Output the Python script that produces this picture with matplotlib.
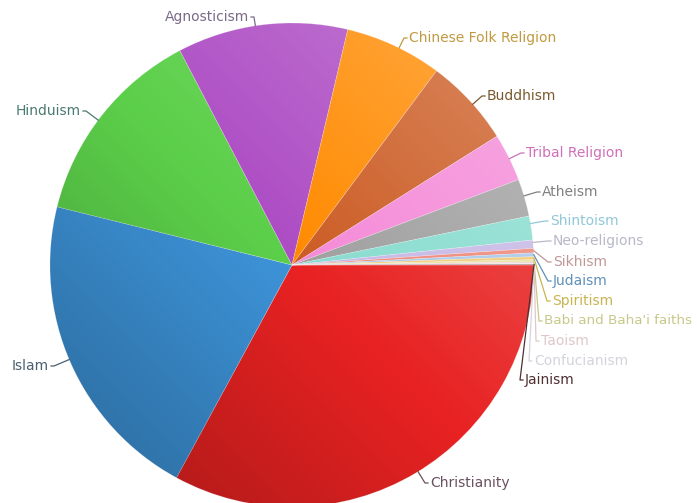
import numpy as np
import matplotlib.pyplot as plt
from matplotlib.patches import Circle

# Religions of the world, share in percent
religioner = ["Christianity", "Islam", "Hinduism", "Agnosticism", "Chinese Folk Religion",
              "Buddhism", "Tribal Religion", "Atheism", "Shintoism", "Neo-religions",
              "Sikhism", "Judaism", "Spiritism", "Babi and Baha'i faiths", "Taoism",
              "Confucianism", "Jainism"]
andel = [33.0, 21.0, 13.5, 11.4, 6.5, 5.9, 3.2, 2.5, 1.6, 0.55,
         0.3, 0.25, 0.2, 0.15, 0.1, 0.05, 0.05]

farger = ["#e82222", "#3d93d8", "#5ccf4a", "#ad4cc4", "#ff8a00", "#cc5c24", "#f58ad8",
          "#a0a0a0", "#88dccf", "#c6b8e6", "#ee8878", "#a8c8e8", "#f0c870", "#e8e0a0",
          "#f0c8c8", "#e2e2ea", "#6a4040"]
tekstfarger = ["#6a5060", "#4a6070", "#4a7a70", "#7a6a8a", "#c09a40", "#7a5a30", "#d070b8",
               "#808080", "#90c8d8", "#b8b8c8", "#c09898", "#6090b8", "#c8b450", "#c8c88a",
               "#e0c8c8", "#d4d4dc", "#503030"]

# label anchor (pixels) and side
etikett_pos = [(430, 483, "left"), (49, 366, "right"), (81, 111, "right"), (249, 17, "right"),
               (409, 38, "left"), (487, 96, "left"), (526, 153, "left"), (542, 192, "left"),
               (550, 221, "left"), (553, 241, "left"), (553, 262, "left"), (553, 281, "left"),
               (552, 301, "left"), (544, 321, "left"), (541, 341, "left"), (534, 361, "left"),
               (525, 380, "left")]

cx, cy, r = 292, 265, 242

fig = plt.figure(figsize=(6.97, 5.03), dpi=100)
ax = fig.add_axes([0, 0, 1, 1])

wedges, _ = ax.pie(andel, colors=farger, startangle=0, counterclock=True,
                   center=(cx, cy), radius=r,
                   wedgeprops=dict(linewidth=0.4, edgecolor=(1, 1, 1, 0.35)))

# light top-right, dark bottom-left shading over the pie
xs = np.linspace(cx - r, cx + r, 300)
ys = np.linspace(cy - r, cy + r, 300)
X, Y = np.meshgrid(xs, ys)
t = ((X - cx) - (Y - cy)) / (2 * r)
rgba = np.zeros((300, 300, 4))
rgba[..., :3] = np.where(t[..., None] > 0, 1.0, 0.0)
rgba[..., 3] = np.where(t > 0, 0.28 * t, 0.3 * -t)
im = ax.imshow(rgba, extent=(cx - r, cx + r, cy + r, cy - r), origin="upper", zorder=3)
im.set_clip_path(Circle((cx, cy), r, transform=ax.transData))

ax.set_xlim(0, 697)
ax.set_ylim(503, 0)
ax.set_aspect("equal")
ax.axis("off")

for w, navn, farge, (tx, ty, side) in zip(wedges, religioner, tekstfarger, etikett_pos):
    if side == "left":
        ex = tx - 5
    else:
        ex = tx + 5
    # point on the rim towards the elbow, kept inside the wedge
    vinkel = np.degrees(np.arctan2(ty - cy, ex - cx)) % 360
    lo, hi = w.theta1, w.theta2
    if not (lo <= vinkel <= hi):
        vinkel = min(max(vinkel, lo + 0.3 * (hi - lo)), hi - 0.3 * (hi - lo))
        if hi - lo < 4:
            vinkel = (lo + hi) / 2
    px = cx + r * np.cos(np.radians(vinkel))
    py = cy + r * np.sin(np.radians(vinkel))
    ax.plot([px, ex, tx - 2 if side == "left" else tx + 2], [py, ty, ty],
            color=farge, lw=0.9, zorder=4)
    fs = 9.7 if navn.startswith("Babi") else 10
    ax.text(tx, ty, navn, ha=side, va="center", color=farge, fontsize=fs, zorder=5)

fig.savefig("out.png", dpi=100)
